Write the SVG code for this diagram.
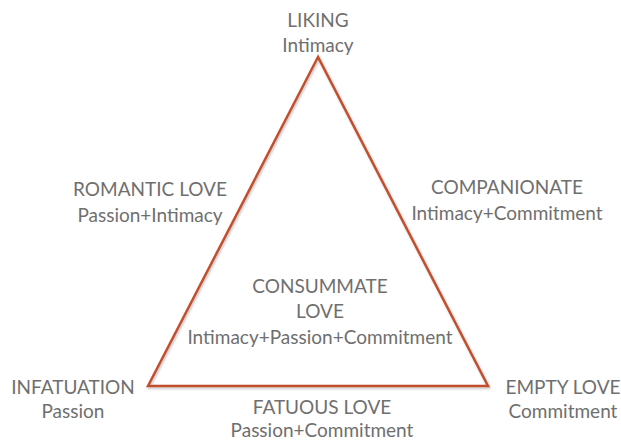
<svg xmlns="http://www.w3.org/2000/svg" width="621" height="442" viewBox="0 0 621 442">
  <style>
    text { font-family: Lato, "Open Sans", "Liberation Sans", sans-serif; font-size: 19px; fill: #6f6f6f; text-anchor: middle; }
    .edge { fill: none; stroke: #c1502e; stroke-width: 2.5; stroke-linejoin: miter; }
  </style>
  <defs>
    <filter id="shadow" x="-10%" y="-10%" width="120%" height="120%">
      <feDropShadow dx="1" dy="1.5" stdDeviation="1" flood-color="#000" flood-opacity="0.25"/>
    </filter>
  </defs>
  <rect width="621" height="442" fill="#ffffff"/>

  <!-- triangle outline -->
  <g id="connectors">
    <polygon class="edge" points="318,57 148,386 488,386" filter="url(#shadow)"/>
  </g>

  <g id="liking">
    <text x="318" y="27">LIKING</text>
    <text x="318" y="52">Intimacy</text>
  </g>
  <g id="romantic">
    <text x="150" y="196">ROMANTIC LOVE</text>
    <text x="150" y="222">Passion+Intimacy</text>
  </g>
  <g id="companionate">
    <text x="507" y="194">COMPANIONATE</text>
    <text x="507" y="220">Intimacy+Commitment</text>
  </g>
  <g id="consummate">
    <text x="320" y="293">CONSUMMATE</text>
    <text x="320" y="318">LOVE</text>
    <text x="320" y="344">Intimacy+Passion+Commitment</text>
  </g>
  <g id="infatuation">
    <text x="73" y="394">INFATUATION</text>
    <text x="73" y="418">Passion</text>
  </g>
  <g id="empty">
    <text x="563" y="394">EMPTY LOVE</text>
    <text x="563" y="418">Commitment</text>
  </g>
  <g id="fatuous">
    <text x="322" y="414">FATUOUS LOVE</text>
    <text x="322" y="437">Passion+Commitment</text>
  </g>
</svg>
